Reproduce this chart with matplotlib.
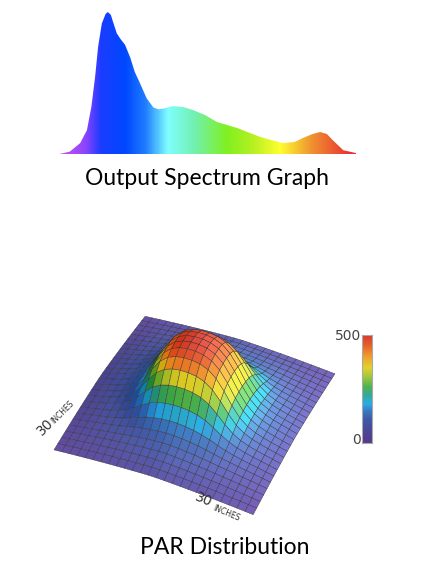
import numpy as np
import matplotlib
matplotlib.use("Agg")
import matplotlib.pyplot as plt
from matplotlib.colors import LinearSegmentedColormap, LightSource
from matplotlib.patches import Polygon

# spectrum (wavelength nm, relative output)
wavelength = [380, 397, 411, 420, 426, 431, 435, 440, 445, 448, 452, 455, 460, 465,
              471, 478, 484, 491, 500, 509, 516, 524, 535, 549, 562, 578, 594, 621,
              652, 682, 698, 709, 722, 732, 741, 749, 763, 780]
intensity = [0.0, 0.02, 0.08, 0.17, 0.335, 0.546, 0.756, 0.92, 0.986, 1.0, 0.98, 0.93,
             0.85, 0.81, 0.77, 0.68, 0.58, 0.50, 0.394, 0.33, 0.317, 0.324, 0.34, 0.333,
             0.312, 0.277, 0.228, 0.186, 0.123, 0.08, 0.088, 0.116, 0.144, 0.158, 0.144,
             0.10, 0.03, 0.01]

# PAR across the 30 inch footprint, one value per grid line:
# a broad spread under the lamp plus the hot spot in the middle
inches = np.linspace(0, 30, 26)
spread_profile = [0.30, 0.38, 0.46, 0.53, 0.60, 0.67, 0.73, 0.79, 0.84, 0.89, 0.93, 0.97, 1.0,
                  1.0, 0.97, 0.93, 0.89, 0.84, 0.79, 0.73, 0.67, 0.60, 0.53, 0.46, 0.38, 0.30]
hotspot_profile = [0.0, 0.0, 0.0, 0.01, 0.03, 0.08, 0.19, 0.38, 0.62, 0.82, 0.94, 0.99, 1.0,
                   1.0, 0.99, 0.94, 0.82, 0.62, 0.38, 0.19, 0.08, 0.03, 0.01, 0.0, 0.0, 0.0]
spread_par = 180
hotspot_par = 320
par_max = 500

spec_cmap = LinearSegmentedColormap.from_list("spec", [
    (0.0, "#d455ea"), (0.094, "#8a44ff"), (0.144, "#1c3cff"), (0.227, "#0048ff"),
    (0.294, "#1f7cff"), (0.371, "#80ffff"), (0.46, "#72f0b0"), (0.569, "#80f020"),
    (0.66, "#b8f022"), (0.746, "#ffff30"), (0.856, "#f09030"), (0.98, "#e83232"),
    (1.0, "#e8303c")])

par_cmap = LinearSegmentedColormap.from_list("par", [
    (0.0, "#553a8c"), (0.12, "#4a4898"), (0.22, "#3f5aa8"), (0.30, "#3a7cc4"),
    (0.36, "#2aaee4"), (0.44, "#35a8a0"), (0.52, "#4cb450"), (0.62, "#a8c83a"),
    (0.70, "#e2d22a"), (0.80, "#f0a02c"), (0.90, "#e8642c"), (1.0, "#d83a30")])

fig = plt.figure(figsize=(4.24, 5.78), dpi=100)

# spectrum
ax = fig.add_axes([57 / 424, 1 - 154.5 / 578, 299 / 424, 142.5 / 578])
ax.set_xlim(380, 780)
ax.set_ylim(0, 1)
ax.axis("off")
grad = np.linspace(0, 1, 400).reshape(1, -1)
im = ax.imshow(grad, extent=[380, 780, 0, 1], aspect="auto", cmap=spec_cmap)
verts = np.column_stack([wavelength + [780, 380], intensity + [0, 0]])
clip = Polygon(verts, closed=True, transform=ax.transData)
im.set_clip_path(clip)
fig.text(0.488, 1 - 178 / 578, "Output Spectrum Graph", ha="center", va="center",
         fontsize=16.5, family="Lato")

# PAR surface
X, Y = np.meshgrid(inches, inches)
Z = spread_par * np.outer(spread_profile, spread_profile) \
    + hotspot_par * np.outer(hotspot_profile, hotspot_profile)
ax3 = fig.add_axes([0.005, 0.09, 0.9, 0.5], projection="3d")
ax3.view_init(elev=44, azim=-66)
ax3.set_proj_type("persp", focal_length=1.5)
ax3.set_box_aspect((1, 1, 0.47), zoom=1.08)
ls = LightSource(azdeg=100, altdeg=40)
base = par_cmap(Z / par_max)[..., :3]
rgb = ls.shade_rgb(base, Z, vert_exag=0.04, blend_mode="soft", fraction=1.0)
ax3.plot_surface(X, Y, Z, facecolors=rgb, rstride=1, cstride=1, edgecolor="#333333",
                 linewidth=0.3, antialiased=True, shade=False)
ax3.set_xlim(0, 30)
ax3.set_ylim(0, 30)
ax3.set_zlim(0, par_max)
ax3.set_axis_off()

cax = fig.add_axes([362 / 424, 1 - 443 / 578, 10 / 424, 108 / 578])
cax.imshow(np.linspace(1, 0, 200).reshape(-1, 1), aspect="auto", cmap=par_cmap,
           extent=[0, 1, 0, 1])
cax.set_xticks([])
cax.set_yticks([])
for s in cax.spines.values():
    s.set_color("#aaaaaa")
    s.set_linewidth(0.8)
lab = dict(family="DejaVu Sans", color="#444444", fontsize=10, ha="right", va="center")
fig.text(361 / 424, 1 - 336 / 578, "500", **lab)
fig.text(361 / 424, 1 - 440 / 578, "0", **lab)

fig.text(42 / 424, 1 - 436 / 578, "30", rotation=45, rotation_mode="anchor",
         family="DejaVu Sans", color="#333333", fontsize=10, ha="left", va="baseline")
fig.text(54 / 424, 1 - 424 / 578, "INCHES", rotation=45, rotation_mode="anchor",
         family="DejaVu Sans", color="#333333", fontsize=5.5, ha="left", va="baseline")
fig.text(194 / 424, 1 - 500 / 578, "30", rotation=-23, rotation_mode="anchor",
         family="DejaVu Sans", color="#333333", fontsize=10, ha="left", va="baseline")
fig.text(212 / 424, 1 - 510 / 578, "INCHES", rotation=-23, rotation_mode="anchor",
         family="DejaVu Sans", color="#333333", fontsize=5.5, ha="left", va="baseline")

fig.text(0.53, 1 - 548 / 578, "PAR Distribution", ha="center", va="center",
         fontsize=16.5, family="Lato")

fig.savefig("out.png", dpi=100)
